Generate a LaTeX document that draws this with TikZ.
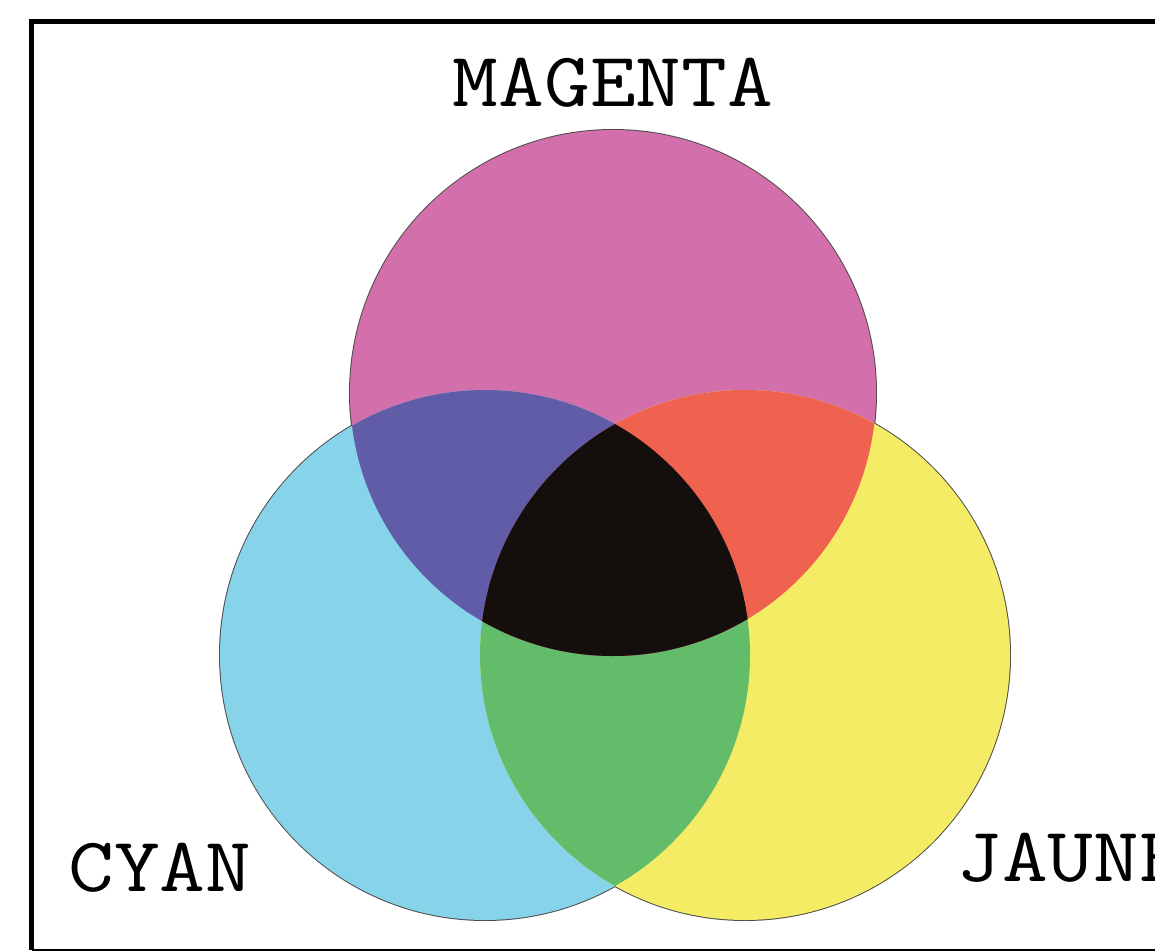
\documentclass[tikz,border=0pt]{standalone}
\usepackage{fontspec}
\usepackage{graphicx}
\definecolor{magentaink}{RGB}{211,111,170}
\definecolor{cyanink}{RGB}{135,211,233}
\definecolor{jauneink}{RGB}{244,236,100}
\definecolor{bleuink}{RGB}{96,92,168}
\definecolor{rougeink}{RGB}{240,98,80}
\definecolor{vertink}{RGB}{99,188,106}
\definecolor{noirink}{RGB}{20,14,12}
\newcommand{\inkword}[1]{\scalebox{1.15}[1]{#1}}

\begin{document}
\begin{tikzpicture}[
  x=0.025cm, y=0.025cm,
  inklabel/.style={font=\ttfamily\fontsize{55}{55}\selectfont, inner sep=0pt},
  rim/.style={draw=black!70, line width=1.4pt}
]
\useasboundingbox (0,0) rectangle (1155,950);
\clip (0,0) rectangle (1155,950);

% centres of the three inks
\coordinate (m) at (613,557);
\coordinate (c) at (485,295);
\coordinate (j) at (745,295);

% thin outer rims, the fills cover their inner half
\draw[rim] (m) circle[radius=263] (c) circle[radius=265] (j) circle[radius=265];

\fill[magentaink] (m) circle[radius=263];
\fill[cyanink] (c) circle[radius=265];
\fill[jauneink] (j) circle[radius=265];
\begin{scope}
  \clip (c) circle[radius=265];
  \fill[vertink] (j) circle[radius=265];
\end{scope}
\begin{scope}
  \clip (m) circle[radius=263];
  \fill[bleuink] (c) circle[radius=265];
  \fill[rougeink] (j) circle[radius=265];
  \clip (c) circle[radius=265];
  \fill[noirink] (j) circle[radius=265];
\end{scope}

% frame
\draw[line width=0.125cm] (31.5,0) -- (31.5,928.5) -- (1200,928.5);
\draw[line width=0.06cm] (31.5,0) -- (1200,0);

\node[inklabel, anchor=base] (magenta) at (613,843) {\inkword{MAGENTA}};
\node[inklabel, anchor=base west] (cyan) at (68,59) {\inkword{CYAN}};
\node[inklabel, anchor=base west] (jaune) at (956,69) {\inkword{JAUNE}};
\end{tikzpicture}
\end{document}
